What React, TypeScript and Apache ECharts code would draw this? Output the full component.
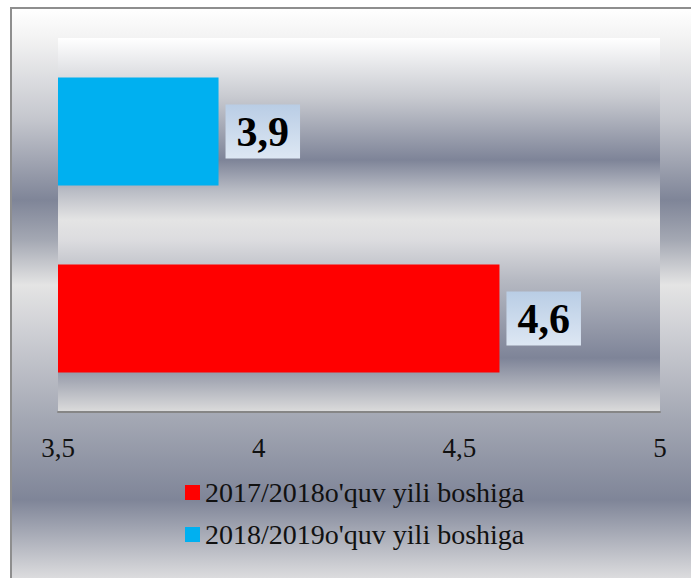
import React, { useEffect, useRef } from "react";
import * as echarts from "echarts";

const categories: string[] = ["2017/2018", "2018/2019"];
const seriesNames: string[] = [
  "2017/2018o'quv yili boshiga",
  "2018/2019o'quv yili boshiga",
];
const values2017: (number | string)[] = [4.6, "-"];
const values2018: (number | string)[] = ["-", 3.9];
const seriesColors: string[] = ["#ff0000", "#00b0f0"];
const axisMin = 3.5;
const axisMax = 5;
const axisStep = 0.5;

const FONT = "Liberation Serif";

const fmt = (v: number) => String(v).replace(".", ",");

export default function App() {
  const ref = useRef<HTMLDivElement>(null);

  useEffect(() => {
    if (!ref.current) return;
    const chart = echarts.init(ref.current, undefined, { renderer: "svg" });

    const outerTop = 8;
    const outerH = 582;
    const off = (y: number) => Math.min(1, Math.max(0, (y - outerTop) / outerH));
    const outerGradient = new echarts.graphic.LinearGradient(0, 0, 0, 1, [
      { offset: off(8), color: "#ffffff" },
      { offset: off(40), color: "#f2f2f2" },
      { offset: off(120), color: "#c4c6cd" },
      { offset: off(200), color: "#7f8598" },
      { offset: off(240), color: "#a4a8b3" },
      { offset: off(285), color: "#e4e4e4" },
      { offset: off(330), color: "#cfd0d5" },
      { offset: off(420), color: "#a3a7b3" },
      { offset: off(500), color: "#7f8598" },
      { offset: off(578), color: "#dcdcde" },
      { offset: 1, color: "#e0e0e2" },
    ]);

    const plotTop = 38;
    const plotH = 374;
    const po = (y: number) => Math.min(1, Math.max(0, (y - plotTop) / plotH));
    const plotGradient = new echarts.graphic.LinearGradient(0, 0, 0, 1, [
      { offset: po(38), color: "#ffffff" },
      { offset: po(97), color: "#c8cad0" },
      { offset: po(160), color: "#7e8498" },
      { offset: po(190), color: "#b8bbc4" },
      { offset: po(220), color: "#e4e4e4" },
      { offset: po(240), color: "#dcdcdf" },
      { offset: po(280), color: "#b6b9c2" },
      { offset: po(358), color: "#7e8498" },
      { offset: po(412), color: "#dcdcdc" },
    ]);

    const labelBg = new echarts.graphic.LinearGradient(0, 0, 0, 1, [
      { offset: 0, color: "#b9cde5" },
      { offset: 1, color: "#dde7f3" },
    ]);

    const dataLabel = {
      show: true,
      position: "right",
      distance: 7,
      formatter: (p: any) => fmt(p.value),
      fontFamily: FONT,
      fontWeight: "bold",
      fontSize: 42,
      lineHeight: 42,
      color: "#000000",
      backgroundColor: labelBg,
      padding: [6, 11, 6, 11],
    };

    chart.setOption({
      animation: false,
      backgroundColor: "#ffffff",
      textStyle: { fontFamily: FONT },
      graphic: [
        {
          type: "rect",
          z: -10,
          silent: true,
          shape: { x: 10, y: outerTop, width: 700, height: outerH },
          style: { fill: outerGradient, stroke: "none" },
        },
        {
          type: "line",
          z: -9,
          silent: true,
          shape: { x1: 11, y1: 8, x2: 11, y2: 600 },
          style: { stroke: "#8e8e8e", lineWidth: 2 },
        },
        {
          type: "line",
          z: -9,
          silent: true,
          shape: { x1: 10, y1: 8, x2: 700, y2: 8 },
          style: { stroke: "#8e8e8e", lineWidth: 2 },
        },
      ],
      grid: {
        left: 58,
        right: 31,
        top: 38,
        bottom: 166,
        show: true,
        borderWidth: 0,
        backgroundColor: plotGradient,
      },
      legend: {
        orient: "vertical",
        left: 180,
        top: 472,
        itemWidth: 15,
        itemHeight: 15,
        itemGap: 11,
        icon: "rect",
        data: seriesNames,
        textStyle: {
          fontFamily: FONT,
          fontSize: 28,
          lineHeight: 31,
          color: "#111111",
        },
      },
      xAxis: {
        type: "value",
        min: axisMin,
        max: axisMax,
        interval: axisStep,
        splitLine: { show: false },
        axisTick: { show: false },
        axisLine: { show: true, lineStyle: { color: "#868686", width: 2 } },
        axisLabel: {
          show: true,
          margin: 22,
          formatter: (v: number) => fmt(v),
          fontFamily: FONT,
          fontSize: 27,
          color: "#111111",
        },
      },
      yAxis: {
        type: "category",
        data: categories,
        axisLine: { show: false },
        axisTick: { show: false },
        axisLabel: { show: false },
        splitLine: { show: false },
      },
      series: [
        {
          name: seriesNames[0],
          type: "bar",
          data: values2017,
          barWidth: 108,
          barGap: "-100%",
          itemStyle: { color: seriesColors[0] },
          label: dataLabel,
        },
        {
          name: seriesNames[1],
          type: "bar",
          data: values2018,
          barWidth: 108,
          barGap: "-100%",
          itemStyle: { color: seriesColors[1] },
          label: dataLabel,
        },
      ],
    });

    return () => chart.dispose();
  }, []);

  return (
    <div
      ref={ref}
      style={{ position: "fixed", left: 0, top: 0, width: 691, height: 578 }}
    />
  );
}
